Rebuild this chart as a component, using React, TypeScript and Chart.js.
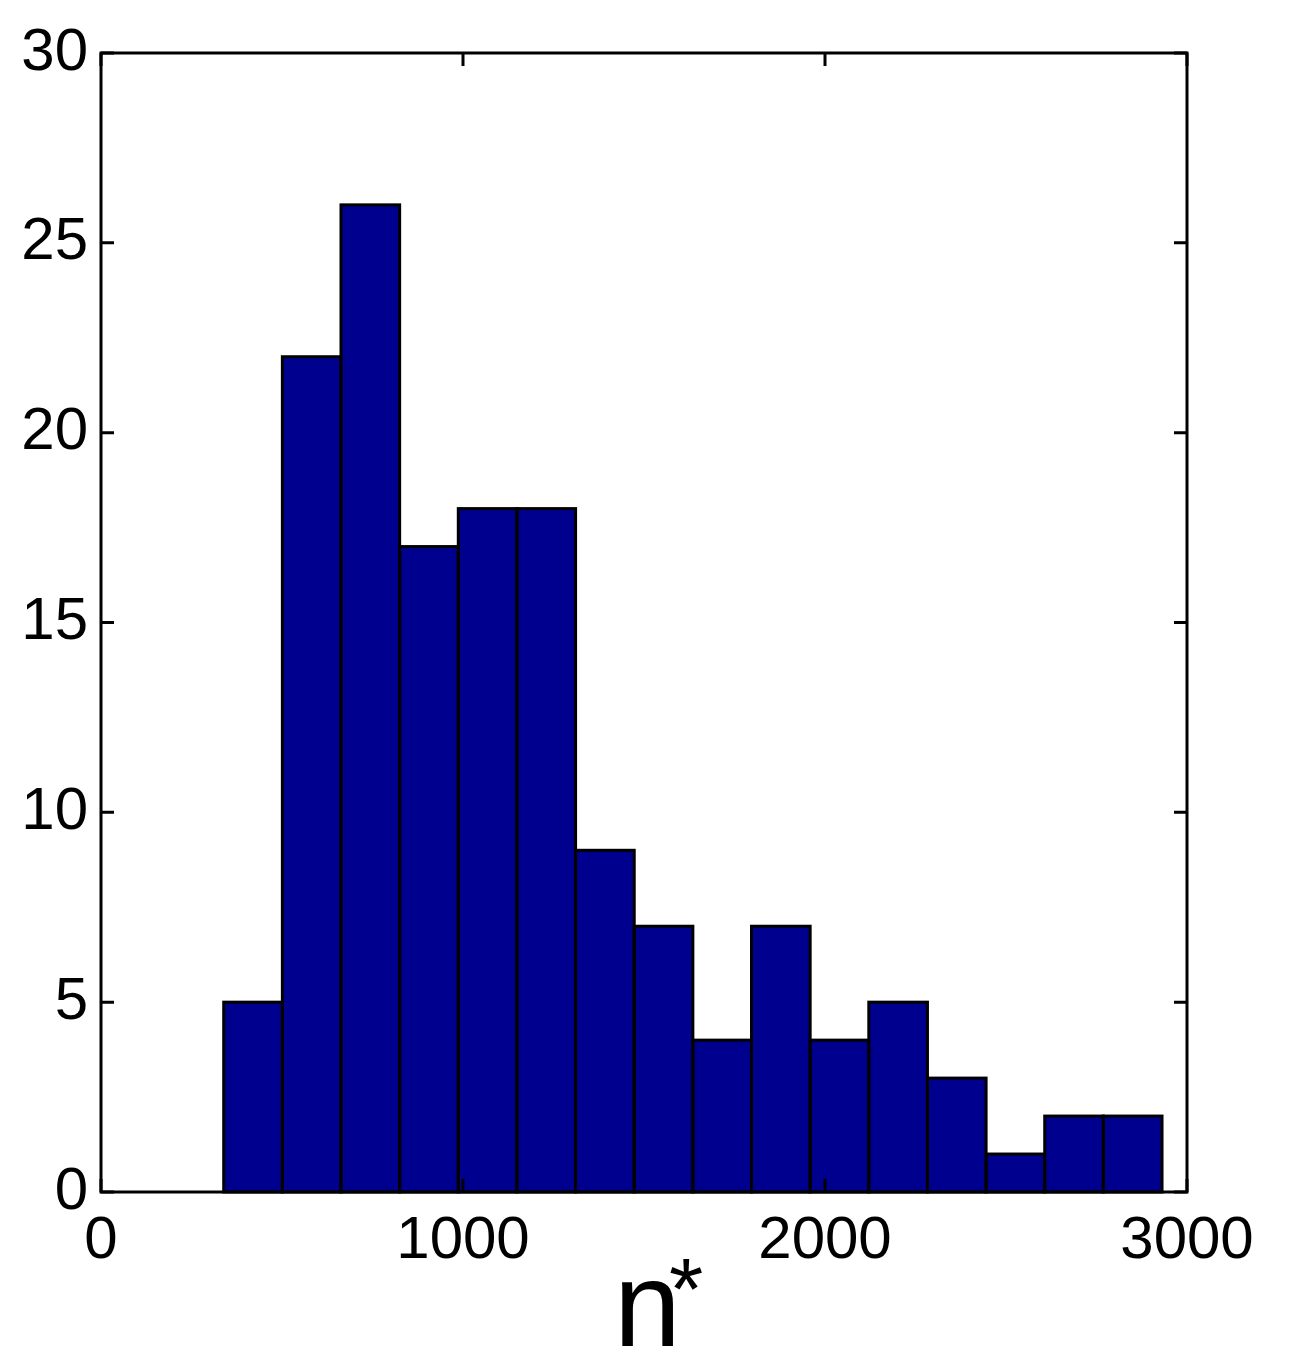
import React, { useEffect, useRef } from 'react';
import { Chart, registerables } from 'chart.js';

Chart.register(...registerables);

// Histogram of n* : bin centres (bin width 162) and counts
const binCenters = [420, 582, 744, 906, 1068, 1230, 1392, 1554, 1716, 1878, 2040, 2202, 2364, 2526, 2688, 2850];
const counts = [5, 22, 26, 17, 18, 18, 9, 7, 4, 7, 4, 5, 3, 1, 2, 2];
const xTicks = [0, 1000, 2000, 3000];
const yTicks = [0, 5, 10, 15, 20, 25, 30];
const xLabel = 'n';
const xLabelSup = '*';

const FONT = '"Liberation Sans", Arial, Helvetica, sans-serif';
const BAR_COLOR = 'rgb(0,0,143)';
const LW = 3;

// Outline each bar centred on its edges (MATLAB style), using the bar elements' own geometry
const barEdgePlugin = {
  id: 'barEdges',
  afterDatasetsDraw(chart: any) {
    const { ctx } = chart;
    const meta = chart.getDatasetMeta(0);
    ctx.save();
    ctx.strokeStyle = '#000';
    ctx.lineWidth = LW;
    ctx.lineJoin = 'miter';
    for (const el of meta.data) {
      const { x, y, base, width } = el.getProps(['x', 'y', 'base', 'width'], true);
      ctx.strokeRect(x - width / 2, y, width, base - y);
    }
    ctx.restore();
  },
};

const framePlugin = {
  id: 'matlabFrame',
  afterDraw(chart: any) {
    const { ctx, chartArea: a, scales } = chart;
    const tl = 13;
    ctx.save();
    ctx.strokeStyle = '#000';
    ctx.lineWidth = LW;
    ctx.lineCap = 'butt';
    ctx.beginPath();
    for (const v of xTicks) {
      const px = scales.x.getPixelForValue(v);
      ctx.moveTo(px, a.bottom);
      ctx.lineTo(px, a.bottom - tl);
      ctx.moveTo(px, a.top);
      ctx.lineTo(px, a.top + tl);
    }
    for (const v of yTicks) {
      const py = scales.y.getPixelForValue(v);
      ctx.moveTo(a.left, py);
      ctx.lineTo(a.left + tl, py);
      ctx.moveTo(a.right, py);
      ctx.lineTo(a.right - tl, py);
    }
    ctx.stroke();
    ctx.lineJoin = 'miter';
    ctx.strokeRect(a.left, a.top, a.right - a.left, a.bottom - a.top);

    // x-axis label "n*"
    const cx = (a.left + a.right) / 2;
    ctx.fillStyle = '#000';
    ctx.textBaseline = 'alphabetic';
    ctx.textAlign = 'left';
    ctx.font = `120px ${FONT}`;
    ctx.fillText(xLabel, cx - 30, a.bottom + 154);
    ctx.font = `88px ${FONT}`;
    ctx.fillText(xLabelSup, cx + 25, a.bottom + 127);
    ctx.restore();
  },
};

export default function App() {
  const ref = useRef<HTMLCanvasElement>(null);

  useEffect(() => {
    if (!ref.current) return;
    const chart = new Chart(ref.current, {
      type: 'bar',
      data: {
        datasets: [
          {
            data: binCenters.map((x, i) => ({ x, y: counts[i] })),
            backgroundColor: BAR_COLOR,
            borderWidth: 0,
            inflateAmount: 0.5,
            barPercentage: 1,
            categoryPercentage: 1,
          } as any,
        ],
      },
      options: {
        responsive: false,
        animation: false,
        events: [],
        layout: { padding: { top: 53, right: 121, left: 0, bottom: 0 } },
        plugins: {
          legend: { display: false },
          tooltip: { enabled: false },
        },
        scales: {
          x: {
            type: 'linear',
            offset: false,
            min: 0,
            max: 3000,
            grid: { display: false, drawTicks: false },
            border: { display: false },
            ticks: {
              stepSize: 1000,
              autoSkip: false,
              maxRotation: 0,
              padding: 13,
              color: '#000',
              font: { family: FONT, size: 60 },
              callback: (v: any) => String(v),
            },
            afterFit: (s: any) => {
              s.height = 175;
            },
          },
          y: {
            min: 0,
            max: 30,
            grid: { display: false, drawTicks: false },
            border: { display: false },
            ticks: {
              stepSize: 5,
              padding: 13,
              color: '#000',
              font: { family: FONT, size: 60 },
              callback: (v: any) => String(v),
            },
            afterFit: (s: any) => {
              s.width = 101;
            },
          },
        },
      } as any,
      plugins: [barEdgePlugin, framePlugin],
    });
    return () => chart.destroy();
  }, []);

  return (
    <div style={{ position: 'absolute', left: 0, top: 0, width: 1308, height: 1367, background: '#fff' }}>
      <canvas ref={ref} width={1308} height={1367} />
    </div>
  );
}
